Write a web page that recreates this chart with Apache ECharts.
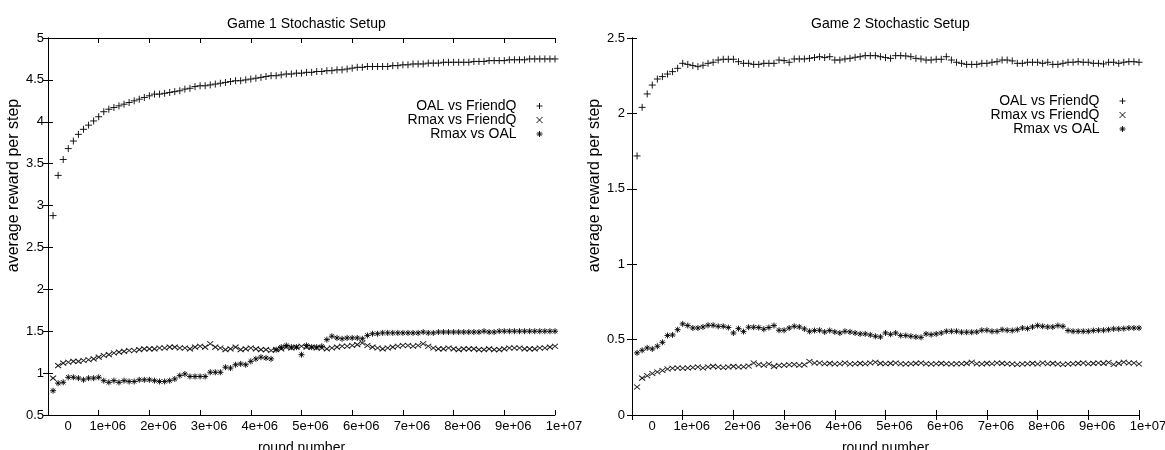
<!DOCTYPE html>
<html>
<head>
<meta charset="utf-8">
<script src="https://cdn.jsdelivr.net/npm/echarts@6/dist/echarts.min.js"></script>
<style>
html,body{margin:0;padding:0;background:#fff;}
#chart{width:1165px;height:450px;}
</style>
</head>
<body>
<div id="chart"></div>
<script>
// ---------- data ----------
const ROUND_STEP = 100000; // one sample every 1e5 rounds
const xTickLabels = ['0','1e+06','2e+06','3e+06','4e+06','5e+06','6e+06','7e+06','8e+06','9e+06','1e+07'];
const seriesNames = ['OAL vs FriendQ', 'Rmax vs FriendQ', 'Rmax vs OAL'];
const titles = ['Game 1 Stochastic Setup', 'Game 2 Stochastic Setup'];

const g1OalFriendQ = [
 2.88,3.36,3.55,3.68,3.77,3.85,3.91,3.96,4.01,4.06,
 4.12,4.15,4.17,4.19,4.21,4.23,4.25,4.27,4.29,4.31,
 4.33,4.33,4.34,4.35,4.36,4.37,4.39,4.40,4.42,4.43,
 4.43,4.44,4.45,4.46,4.47,4.48,4.49,4.49,4.50,4.51,
 4.52,4.53,4.54,4.55,4.55,4.56,4.57,4.57,4.58,4.58,
 4.59,4.59,4.60,4.60,4.61,4.61,4.62,4.62,4.63,4.64,
 4.65,4.65,4.66,4.66,4.66,4.66,4.66,4.67,4.67,4.68,
 4.68,4.69,4.69,4.69,4.70,4.70,4.70,4.71,4.71,4.71,
 4.71,4.71,4.71,4.72,4.72,4.72,4.73,4.73,4.73,4.73,
 4.74,4.74,4.74,4.74,4.75,4.75,4.75,4.75,4.75,4.75
];
const g1RmaxFriendQ = [
 0.94,1.09,1.12,1.13,1.14,1.14,1.15,1.16,1.17,1.19,
 1.21,1.22,1.24,1.25,1.26,1.27,1.27,1.28,1.29,1.29,
 1.29,1.30,1.30,1.31,1.31,1.30,1.30,1.29,1.31,1.32,
 1.31,1.35,1.31,1.30,1.28,1.29,1.31,1.28,1.29,1.30,
 1.29,1.28,1.28,1.27,1.28,1.29,1.31,1.30,1.31,1.32,
 1.31,1.31,1.30,1.30,1.29,1.30,1.31,1.32,1.32,1.33,
 1.34,1.36,1.33,1.31,1.30,1.29,1.30,1.31,1.32,1.33,
 1.33,1.32,1.33,1.35,1.32,1.30,1.29,1.29,1.30,1.29,
 1.28,1.29,1.29,1.29,1.28,1.28,1.29,1.28,1.28,1.29,
 1.30,1.30,1.30,1.29,1.29,1.29,1.30,1.30,1.31,1.32
];
const g1RmaxOal = [
 0.79,0.88,0.89,0.95,0.95,0.94,0.92,0.94,0.94,0.95,
 0.91,0.89,0.91,0.89,0.91,0.90,0.90,0.92,0.92,0.92,
 0.91,0.90,0.90,0.91,0.93,0.97,0.99,0.96,0.96,0.96,
 0.96,1.01,1.01,1.01,1.07,1.06,1.10,1.11,1.10,1.14,
 1.17,1.19,1.18,1.17,1.28,1.31,1.33,1.31,1.31,1.22,
 1.33,1.31,1.31,1.32,1.40,1.44,1.42,1.41,1.42,1.42,
 1.42,1.41,1.45,1.47,1.47,1.48,1.48,1.48,1.48,1.48,
 1.48,1.48,1.48,1.49,1.48,1.48,1.49,1.49,1.49,1.49,
 1.49,1.49,1.49,1.49,1.49,1.50,1.49,1.49,1.50,1.50,
 1.50,1.50,1.50,1.50,1.50,1.50,1.50,1.50,1.50,1.50
];
const g2OalFriendQ = [
 1.718,2.040,2.129,2.188,2.228,2.244,2.261,2.277,2.299,2.332,
 2.325,2.317,2.310,2.319,2.332,2.339,2.354,2.359,2.359,2.359,
 2.343,2.332,2.332,2.325,2.325,2.332,2.332,2.332,2.354,2.350,
 2.339,2.361,2.361,2.361,2.365,2.370,2.376,2.370,2.376,2.354,
 2.354,2.361,2.365,2.372,2.376,2.383,2.383,2.383,2.376,2.370,
 2.365,2.383,2.383,2.381,2.376,2.365,2.361,2.354,2.354,2.359,
 2.359,2.376,2.354,2.339,2.332,2.325,2.325,2.325,2.332,2.332,
 2.339,2.343,2.354,2.354,2.348,2.332,2.332,2.339,2.339,2.339,
 2.332,2.339,2.325,2.325,2.332,2.339,2.339,2.343,2.339,2.339,
 2.332,2.332,2.328,2.339,2.339,2.332,2.339,2.343,2.343,2.339
];
const g2RmaxFriendQ = [
 0.186,0.245,0.260,0.275,0.285,0.295,0.305,0.310,0.312,0.310,
 0.312,0.315,0.318,0.312,0.318,0.322,0.318,0.315,0.318,0.322,
 0.318,0.320,0.325,0.345,0.335,0.330,0.338,0.322,0.328,0.330,
 0.333,0.335,0.330,0.333,0.355,0.345,0.345,0.340,0.342,0.338,
 0.340,0.345,0.338,0.340,0.342,0.340,0.345,0.350,0.342,0.340,
 0.342,0.345,0.340,0.338,0.340,0.342,0.345,0.340,0.338,0.340,
 0.342,0.340,0.338,0.340,0.340,0.342,0.350,0.340,0.338,0.342,
 0.340,0.345,0.342,0.340,0.338,0.335,0.338,0.340,0.342,0.338,
 0.345,0.340,0.342,0.338,0.335,0.338,0.340,0.342,0.345,0.340,
 0.342,0.345,0.342,0.348,0.335,0.342,0.350,0.345,0.345,0.338
];
const g2RmaxOal = [
 0.412,0.429,0.445,0.438,0.456,0.482,0.527,0.531,0.566,0.604,
 0.593,0.577,0.577,0.584,0.595,0.595,0.588,0.588,0.580,0.544,
 0.573,0.553,0.582,0.582,0.580,0.569,0.580,0.593,0.562,0.562,
 0.577,0.588,0.584,0.571,0.555,0.560,0.562,0.551,0.560,0.551,
 0.544,0.555,0.551,0.544,0.538,0.538,0.531,0.522,0.518,0.544,
 0.535,0.544,0.527,0.527,0.522,0.518,0.515,0.538,0.533,0.538,
 0.544,0.555,0.555,0.555,0.549,0.549,0.549,0.551,0.562,0.562,
 0.555,0.555,0.566,0.562,0.560,0.566,0.577,0.573,0.584,0.593,
 0.588,0.584,0.584,0.593,0.588,0.560,0.555,0.555,0.555,0.555,
 0.560,0.562,0.562,0.566,0.571,0.571,0.573,0.577,0.577,0.577
];

// ---------- helpers ----------
const FONT = 'Liberation Sans, Arial, Helvetica, sans-serif';
const SYM_PLUS = 'path://M0,5L10,5M5,0L5,10';
const SYM_CROSS = 'path://M0,0L10,10M10,0L0,10';
const SYM_STAR = 'path://M0,5L10,5M5,0L5,10M1.5,1.5L8.5,8.5M8.5,1.5L1.5,8.5';
const symbols = [SYM_PLUS, SYM_CROSS, SYM_STAR];
const symSizes = [[7,7],[6,5],[6,6]];

function pairs(vals){ return vals.map((v,i)=>[(i+1)*ROUND_STEP, v]); }

const axisLineStyle = {show:true, lineStyle:{color:'#000', width:1}};
const tickStyle = {show:true, inside:true, length:5, lineStyle:{color:'#000', width:1}};

function xAxes(grid){
  const base = {type:'value', gridIndex:grid, min:0, max:1e7, interval:1e6,
    splitLine:{show:false}, axisLine:axisLineStyle, axisTick:tickStyle};
  return [
    Object.assign({}, base, {position:'bottom',
      name:'round number', nameLocation:'middle', nameGap:26,
      nameTextStyle:{fontFamily:FONT, fontSize:14, color:'#000'},
      axisLabel:{show:true, margin:5, color:'#000', fontFamily:FONT, fontSize:13,
        formatter:function(v){ const i=Math.round(v/1e6); const t=xTickLabels[i];
          return i===0 ? '{z|'+t+'}' : '{a|'+t+'}'; },
        rich:{a:{padding:[0,0,0,18], fontFamily:FONT, fontSize:13, color:'#000'},
              z:{padding:[0,0,0,40], fontFamily:FONT, fontSize:13, color:'#000'}}}}),
    Object.assign({}, base, {position:'top', axisLabel:{show:false}})
  ];
}
function yAxes(grid, min, max, labelMargin, nameGap){
  const base = {type:'value', gridIndex:grid, min:min, max:max, interval:0.5,
    splitLine:{show:false}, axisLine:axisLineStyle, axisTick:tickStyle};
  return [
    Object.assign({}, base, {position:'left',
      name:'average reward per step', nameLocation:'middle', nameGap:nameGap,
      nameTextStyle:{fontFamily:FONT, fontSize:16, color:'#000', padding:[0,0,0,82]},
      axisLabel:{show:true, margin:labelMargin, color:'#000', fontFamily:FONT, fontSize:13}}),
    Object.assign({}, base, {position:'right', axisLabel:{show:false}})
  ];
}

function makeSeries(grid, arrays){
  return arrays.map((arr, k)=>({
    type:'scatter', name:seriesNames[k], xAxisIndex:grid*2, yAxisIndex:grid*2,
    data:pairs(arr), symbol:symbols[k], symbolSize:symSizes[k],
    itemStyle:{color:'#000', borderColor:'#000', borderWidth:1, opacity:0.9},
    emphasis:{disabled:true}, animation:false
  }));
}

function legend(right, top){
  return {show:true, orient:'vertical', align:'right', right:right, top:top,
    itemWidth:36, itemHeight:6, itemGap:0, selectedMode:false, padding:0,
    itemStyle:{color:'#000', borderColor:'#000', borderWidth:1},
    textStyle:{fontFamily:FONT, fontSize:14, color:'#000', lineHeight:11.5},
    data:seriesNames.map((n,k)=>({name:n, icon:symbols[k]}))};
}

const chart = echarts.init(document.getElementById('chart'), null, {renderer:'canvas'});
chart.setOption({
  backgroundColor:'#fff',
  animation:false,
  title:[
    {text:titles[0], left:222, top:11, textStyle:{fontFamily:FONT, fontSize:14, fontWeight:'normal', color:'#000', lineHeight:16}},
    {text:titles[1], left:806, top:11, textStyle:{fontFamily:FONT, fontSize:14, fontWeight:'normal', color:'#000', lineHeight:16}}
  ],
  legend:[legend(622, 99), legend(39, 94)],
  grid:[
    {left:48, right:610, top:38, bottom:35, outerBoundsMode:'none', containLabel:false},
    {left:632, right:26, top:38, bottom:35, outerBoundsMode:'none', containLabel:false}
  ],
  xAxis:[...xAxes(0), ...xAxes(1)],
  yAxis:[...yAxes(0, 0.5, 5, 4, 22), ...yAxes(1, 0, 2.5, 7, 26)],
  series:[...makeSeries(0, [g1OalFriendQ, g1RmaxFriendQ, g1RmaxOal]),
          ...makeSeries(1, [g2OalFriendQ, g2RmaxFriendQ, g2RmaxOal])]
});
</script>
</body>
</html>
